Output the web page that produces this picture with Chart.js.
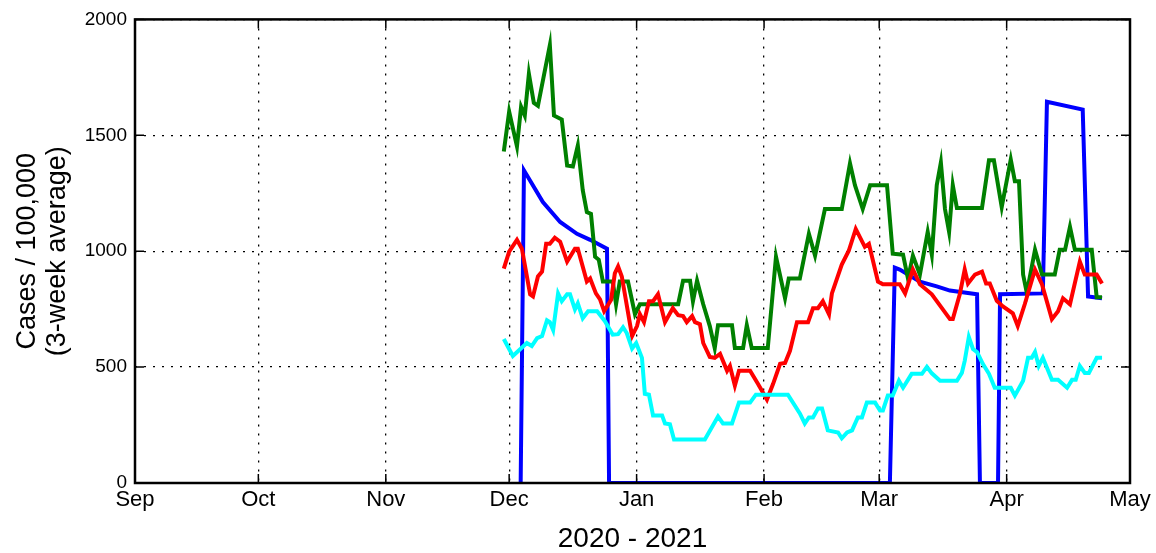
<!DOCTYPE html>
<html>
<head>
<meta charset="utf-8">
<script src="https://cdn.jsdelivr.net/npm/chart.js@4/dist/chart.umd.min.js"></script>
<style>
    html, body { margin: 0; padding: 0; background: #ffffff; }
    #wrap { width: 1156px; height: 553px; }
</style>
</head>
<body>
<div id="wrap"><canvas id="casesChart"></canvas></div>
<script>
// Days counted from 1 Sep 2020
const monthDays = [0, 30, 61, 91, 122, 153, 181, 212, 242];
const monthLabels = ['Sep', 'Oct', 'Nov', 'Dec', 'Jan', 'Feb', 'Mar', 'Apr', 'May'];
const yTicks = [0, 500, 1000, 1500, 2000];

// Blue series
const blueDays = [93.8, 94.6, 99.2, 103.4, 107.5, 110.7, 114.8, 115.3, 183.6, 184.8, 186.0, 190.9, 195.0, 198.2, 204.8, 205.5, 209.9, 210.4, 220.8, 221.8, 230.5, 231.8, 235.2];
const blueVals = [0, 1349, 1212, 1126, 1075, 1049, 1011, 0, 0, 929, 921, 869, 848, 830, 814, 0, 0, 814, 818, 1645, 1611, 805, 797];

// Green series
const greenDays = [89.7, 91.0, 92.9, 93.9, 94.8, 95.8, 97.0, 98.0, 100.9, 101.9, 103.8, 105.1, 106.5, 107.7, 108.9, 109.9, 110.9, 111.9, 112.8, 113.8, 116.2, 117.0, 117.9, 119.9, 121.6, 122.8, 132.1, 133.3, 135.0, 135.7, 136.7, 138.2, 139.8, 141.0, 141.8, 145.2, 145.9, 147.9, 148.8, 150.0, 153.9, 155.9, 158.1, 159.0, 161.7, 163.9, 165.4, 167.8, 171.9, 173.9, 175.1, 177.0, 178.8, 182.9, 184.3, 186.8, 188.0, 189.2, 190.9, 192.8, 193.8, 195.0, 196.0, 197.0, 198.0, 198.9, 199.9, 206.0, 207.7, 208.9, 210.8, 213.0, 214.0, 215.0, 216.0, 216.9, 218.9, 220.6, 223.7, 224.9, 226.2, 227.4, 228.6, 232.7, 233.9, 235.2];
const greenVals = [1430, 1602, 1452, 1623, 1585, 1765, 1640, 1627, 1889, 1585, 1568, 1370, 1366, 1456, 1263, 1169, 1161, 976, 963, 869, 869, 771, 869, 869, 728, 771, 771, 873, 873, 784, 873, 771, 677, 582, 681, 681, 582, 582, 681, 582, 582, 976, 797, 882, 882, 1075, 981, 1182, 1182, 1379, 1285, 1182, 1285, 1285, 989, 985, 882, 981, 899, 1083, 985, 1285, 1383, 1182, 1083, 1285, 1186, 1186, 1392, 1392, 1190, 1396, 1302, 1302, 899, 820, 1006, 899, 899, 1006, 1006, 1105, 1006, 1006, 801, 801];

// Red series
const redDays = [89.7, 91.0, 92.9, 94.1, 96.1, 96.8, 98.0, 99.0, 100.0, 100.9, 102.1, 103.4, 105.1, 107.0, 107.7, 109.9, 110.7, 112.1, 113.1, 114.1, 115.8, 116.7, 117.5, 118.4, 120.9, 122.1, 122.8, 123.8, 125.0, 126.0, 127.2, 128.9, 130.8, 132.1, 133.3, 134.2, 135.5, 136.2, 137.4, 138.2, 139.8, 141.0, 142.3, 144.0, 144.7, 145.9, 146.9, 149.6, 151.5, 153.7, 155.2, 156.9, 158.1, 159.3, 161.0, 163.7, 164.9, 166.1, 167.3, 168.8, 169.5, 171.9, 173.6, 175.3, 177.5, 178.5, 180.7, 181.9, 186.0, 187.3, 189.2, 190.9, 193.8, 198.2, 198.9, 200.6, 201.8, 202.6, 204.3, 206.0, 207.0, 207.9, 209.6, 211.1, 213.5, 214.7, 216.4, 218.9, 220.6, 223.0, 224.5, 225.7, 227.4, 229.8, 231.0, 233.9, 235.2];
const redVals = [925, 998, 1049, 1011, 814, 805, 891, 912, 1032, 1032, 1058, 1041, 955, 1011, 1011, 869, 882, 818, 792, 741, 790, 904, 934, 891, 634, 677, 728, 694, 784, 784, 814, 694, 754, 724, 720, 694, 720, 694, 685, 604, 544, 540, 557, 484, 505, 420, 484, 484, 428, 360, 428, 514, 518, 570, 694, 694, 754, 754, 784, 728, 818, 942, 1002, 1096, 1019, 1032, 869, 857, 857, 818, 921, 857, 814, 707, 707, 814, 921, 861, 899, 912, 861, 861, 786, 762, 732, 677, 771, 921, 857, 707, 741, 797, 771, 955, 899, 899, 861];

// Cyan series
const cyanDays = [89.7, 91.9, 95.3, 96.5, 97.8, 99.0, 100.2, 100.9, 101.7, 102.9, 103.8, 105.1, 105.8, 107.0, 107.7, 108.9, 110.2, 112.4, 114.3, 116.2, 117.5, 118.7, 119.6, 120.9, 121.9, 123.3, 124.0, 125.0, 126.0, 128.2, 128.9, 130.1, 131.1, 138.6, 141.8, 143.0, 145.2, 146.9, 149.6, 151.0, 158.8, 161.7, 162.9, 163.9, 164.9, 166.1, 167.1, 168.5, 171.0, 171.9, 173.2, 174.4, 175.8, 176.8, 178.0, 180.0, 181.2, 181.9, 183.1, 184.3, 185.8, 186.8, 188.9, 191.4, 192.6, 193.8, 195.8, 199.9, 201.1, 201.8, 202.8, 203.8, 204.8, 206.2, 207.7, 209.1, 213.0, 214.0, 216.0, 217.2, 218.1, 218.9, 219.8, 220.8, 223.0, 224.5, 226.7, 227.9, 228.8, 229.8, 231.0, 232.0, 233.9, 235.2];
const cyanVals = [621, 548, 604, 591, 625, 634, 702, 694, 660, 818, 784, 814, 814, 749, 775, 711, 741, 741, 698, 640, 642, 672, 647, 580, 604, 540, 385, 381, 291, 291, 257, 253, 188, 188, 287, 257, 257, 347, 347, 381, 381, 300, 257, 283, 283, 321, 321, 227, 218, 193, 218, 227, 283, 283, 347, 347, 313, 313, 377, 377, 441, 411, 471, 471, 501, 473, 441, 441, 475, 527, 630, 578, 565, 514, 471, 411, 411, 377, 441, 540, 540, 565, 505, 540, 445, 445, 411, 445, 445, 505, 475, 475, 540, 540];

const FONT = "'Liberation Sans', Arial, sans-serif";

function toPoints(days, vals) {
    return days.map((d, i) => ({ x: d, y: vals[i] }));
}

function series(label, days, vals, color, order) {
    return {
        label: label,
        data: toPoints(days, vals),
        borderColor: color,
        backgroundColor: color,
        borderWidth: 4,
        pointRadius: 0,
        tension: 0,
        fill: false,
        order: order
    };
}

// Frame and inward tick marks, like the classic matplotlib box
const framePlugin = {
    id: 'frame',
    afterDraw(chart) {
        const ctx = chart.ctx;
        const a = chart.chartArea;
        const xs = chart.scales.x;
        const ys = chart.scales.y;
        ctx.save();
        ctx.strokeStyle = '#000';
        ctx.lineWidth = 1.5;
        ctx.beginPath();
        monthDays.forEach(d => {
            const px = xs.getPixelForValue(d);
            ctx.moveTo(px, a.bottom); ctx.lineTo(px, a.bottom - 9);
            ctx.moveTo(px, a.top); ctx.lineTo(px, a.top + 9);
        });
        yTicks.forEach(v => {
            const py = ys.getPixelForValue(v);
            ctx.moveTo(a.left, py); ctx.lineTo(a.left + 9, py);
            ctx.moveTo(a.right, py); ctx.lineTo(a.right - 9, py);
        });
        ctx.stroke();
        ctx.lineWidth = 2.5;
        ctx.strokeRect(a.left, a.top, a.right - a.left, a.bottom - a.top);
        ctx.restore();
    }
};

new Chart(document.getElementById('casesChart'), {
    type: 'line',
    data: {
        datasets: [
            series('Blue', blueDays, blueVals, '#0000ff', 3),
            series('Green', greenDays, greenVals, '#008000', 2),
            series('Red', redDays, redVals, '#ff0000', 1),
            series('Cyan', cyanDays, cyanVals, '#00ffff', 0)
        ]
    },
    options: {
        responsive: true,
        maintainAspectRatio: false,
        animation: false,
        layout: { padding: { left: 0, right: 26, top: 16, bottom: 0 } },
        plugins: {
            legend: { display: false },
            tooltip: { enabled: false }
        },
        scales: {
            x: {
                type: 'linear',
                min: 0,
                max: 242,
                afterBuildTicks: scale => {
                    scale.ticks = monthDays.map(v => ({ value: v }));
                },
                afterFit: scale => { scale.height = 70; },
                ticks: {
                    autoSkip: false,
                    maxRotation: 0,
                    padding: 4,
                    color: '#000',
                    font: { family: FONT, size: 22 },
                    callback: (value) => monthLabels[monthDays.indexOf(value)]
                },
                grid: {
                    color: '#000',
                    lineWidth: 1.3,
                    drawTicks: false
                },
                border: { display: false, dash: [2, 7] },
                title: {
                    display: true,
                    text: '2020 - 2021',
                    color: '#000',
                    font: { family: FONT, size: 28, lineHeight: 1 },
                    padding: { top: 0, bottom: 0 }
                }
            },
            y: {
                min: 0,
                max: 2000,
                afterBuildTicks: scale => {
                    scale.ticks = yTicks.map(v => ({ value: v }));
                },
                afterFit: scale => { scale.width = 135; },
                ticks: {
                    padding: 8,
                    color: '#000',
                    font: { family: FONT, size: 19 },
                    callback: (value) => String(value)
                },
                grid: {
                    color: '#000',
                    lineWidth: 1.3,
                    drawTicks: false
                },
                border: { display: false, dash: [2, 7] },
                title: {
                    display: true,
                    text: ['Cases / 100,000', '(3-week average)'],
                    color: '#000',
                    font: { family: FONT, size: 27, lineHeight: 1.11 },
                    padding: { top: 13, bottom: 0 }
                }
            }
        }
    },
    plugins: [framePlugin]
});
</script>
</body>
</html>
